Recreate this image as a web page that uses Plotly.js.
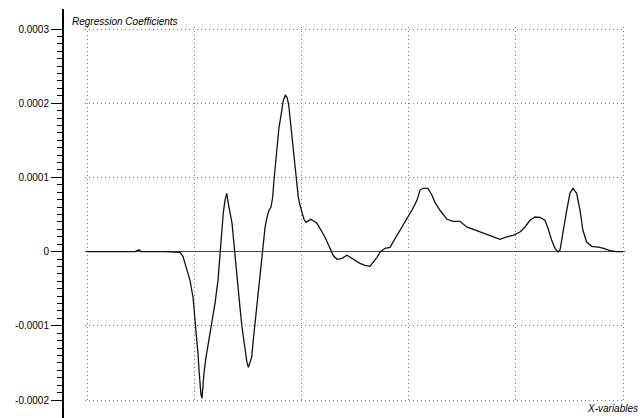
<!DOCTYPE html>
<html>
<head>
<meta charset="utf-8">
<script src="https://cdn.plot.ly/plotly-3.0.1.min.js"></script>
<style>html,body{margin:0;padding:0;background:#fff;}#chart{width:642px;height:418px;}</style>
</head>
<body>
<div id="chart"></div>
<script>
// X-variable index
var xVariables = [0,21.5,44.8,48.5,50.4,72.8,82.1,86.8,89.5,91.4,94.2,96.1,98.9,100.7,101.7,102.6,103.5,104.5,105.4,106.3,107.3,109.1,111.0,113.8,116.6,119.4,122.2,124.1,125.6,127.1,128.7,130.3,131.8,133.4,135.3,136.5,137.8,139.7,141.3,142.7,144.6,145.8,147.4,148.3,149.2,150.5,152.0,153.6,155.1,156.7,158.6,160.4,162.3,163.2,164.5,166.1,167.9,169.8,171.6,173.2,174.4,176.0,177.5,179.1,180.7,181.9,183.1,185.0,186.6,188.2,189.4,191.0,192.2,193.8,195.6,197.1,198.7,200.6,202.4,204.3,206.1,208.9,211.7,214.5,217.3,222.0,226.7,229.5,233.2,237.9,242.5,245.3,250.0,254.6,259.3,264.0,266.8,270.5,273.3,278.0,282.6,285.4,289.2,292.0,294.8,298.5,301.3,304.1,307.8,310.6,313.4,318.1,321.8,324.6,329.3,335.8,341.4,347.9,354.2,360.1,366.6,372.9,378.7,385.3,391.5,397.4,403.9,408.6,413.2,417.9,422.6,427.2,430.0,433.5,436.6,439.4,441.2,444.0,447.5,450.5,453.3,456.8,459.9,462.6,466.1,470.8,478.5,484.7,489.4,493.5,500];
// Regression coefficients in units of 1e-6
var coefMicro = [0,0,0,2.4,0,0,-0.4,-0.9,-6.3,-15.8,-26.5,-38.7,-61.6,-88.5,-106.1,-119.5,-137.1,-160.0,-177.5,-192.3,-197.7,-164.0,-142.5,-119.5,-92.6,-69.7,-38.7,-2.3,19.3,51.6,69.1,78.6,65.1,51.6,38.1,19.3,-2.3,-29.2,-52.2,-75.1,-102.0,-115.5,-126.3,-137.1,-149.2,-155.9,-150.5,-142.5,-119.5,-96.6,-69.7,-42.7,-21.2,0.4,15.2,32.7,46.2,55.7,59.7,73.2,96.1,123.0,150.0,167.5,181.0,194.5,203.9,210.6,208.0,197.2,181.0,154.0,136.5,113.6,92.0,73.2,62.4,51.6,43.5,39.5,40.8,43.5,40.8,38.1,31.4,19.3,4.4,-5.0,-10.4,-9.0,-5.0,-7.7,-11.7,-15.8,-18.5,-19.8,-14.4,-7.7,-0.9,4.4,5.8,12.5,22.0,28.7,35.4,44.9,51.6,58.4,69.1,82.6,85.3,85.3,75.9,66.4,55.7,43.5,40.8,40.8,33.2,30.1,26.0,23.3,19.7,16.6,19.7,22.0,26.4,33.2,42.2,46.6,46.2,42.2,31.4,15.2,4.4,-0.5,1.8,28.7,55.7,78.6,85.3,78.6,55.7,28.7,12.9,7.1,5.8,3.1,0.8,0,0];
var yTickVals = [-0.0002,-0.0001,0,0.0001,0.0002,0.0003];
var yTickLabels = ['-0.0002','-0.0001','0','0.0001','0.0002','0.0003'];
var yTitle = 'Regression Coefficients';
var xTitle = 'X-variables';

var coefs = coefMicro.map(function(v){return v*1e-6;});
var font = 'Liberation Sans, Arial, sans-serif';

// 2px padding so the boundary grid lines are not clipped
var xPad = 2/1.072, yPad = 2*1.3477e-6;

var trace = {
  x: xVariables, y: coefs, type: 'scatter', mode: 'lines',
  line: {color: '#111', width: 1.3}, hoverinfo: 'skip', showlegend: false
};

var layout = {
  width: 642, height: 418,
  margin: {l: 63, r: 17, t: 9, b: 0, pad: 0},
  paper_bgcolor: '#fff', plot_bgcolor: 'rgba(0,0,0,0)',
  font: {family: font, size: 10, color: '#000'},
  showlegend: false,
  xaxis: {
    domain: [22/562, 1], range: [-xPad, 500 + xPad], tick0: 0, dtick: 100,
    showgrid: true, griddash: '1px,3px', gridcolor: '#777', gridwidth: 1,
    zeroline: false, showline: false, ticks: '', showticklabels: false,
    fixedrange: true
  },
  yaxis: {
    domain: [16/409, 391/409], range: [-0.0002 - yPad, 0.0003 + yPad],
    anchor: 'free', position: 0,
    tickmode: 'array', tickvals: yTickVals, ticktext: yTickLabels,
    ticks: 'outside', ticklen: 11, tickwidth: 1, tickcolor: '#000',
    minor: {dtick: 0.00001, tick0: 0, ticks: 'outside', ticklen: 5, tickwidth: 1, tickcolor: '#000', showgrid: false},
    showline: true, linecolor: '#000', linewidth: 2,
    showgrid: true, griddash: '1px,3px', gridcolor: '#777', gridwidth: 1,
    zeroline: true, zerolinecolor: '#444', zerolinewidth: 1,
    tickfont: {family: font, size: 10, color: '#000'},
    fixedrange: true
  },
  shapes: [{
    type: 'line', xref: 'paper', yref: 'paper', x0: 0, x1: 0, y0: 0, y1: 1,
    line: {color: '#000', width: 2}
  }],
  annotations: [
    {text: '<i>' + yTitle + '</i>', xref: 'paper', yref: 'paper', x: 7/562, y: 397/409,
     xanchor: 'left', yanchor: 'middle', showarrow: false, font: {family: font, size: 10, color: '#000'}},
    {text: '<i>' + xTitle + '</i>', xref: 'paper', yref: 'paper', x: 577/562, y: 10/409,
     xanchor: 'right', yanchor: 'middle', showarrow: false, font: {family: font, size: 10, color: '#000'}}
  ]
};

Plotly.newPlot('chart', [trace], layout, {staticPlot: true, displayModeBar: false});
</script>
</body>
</html>
